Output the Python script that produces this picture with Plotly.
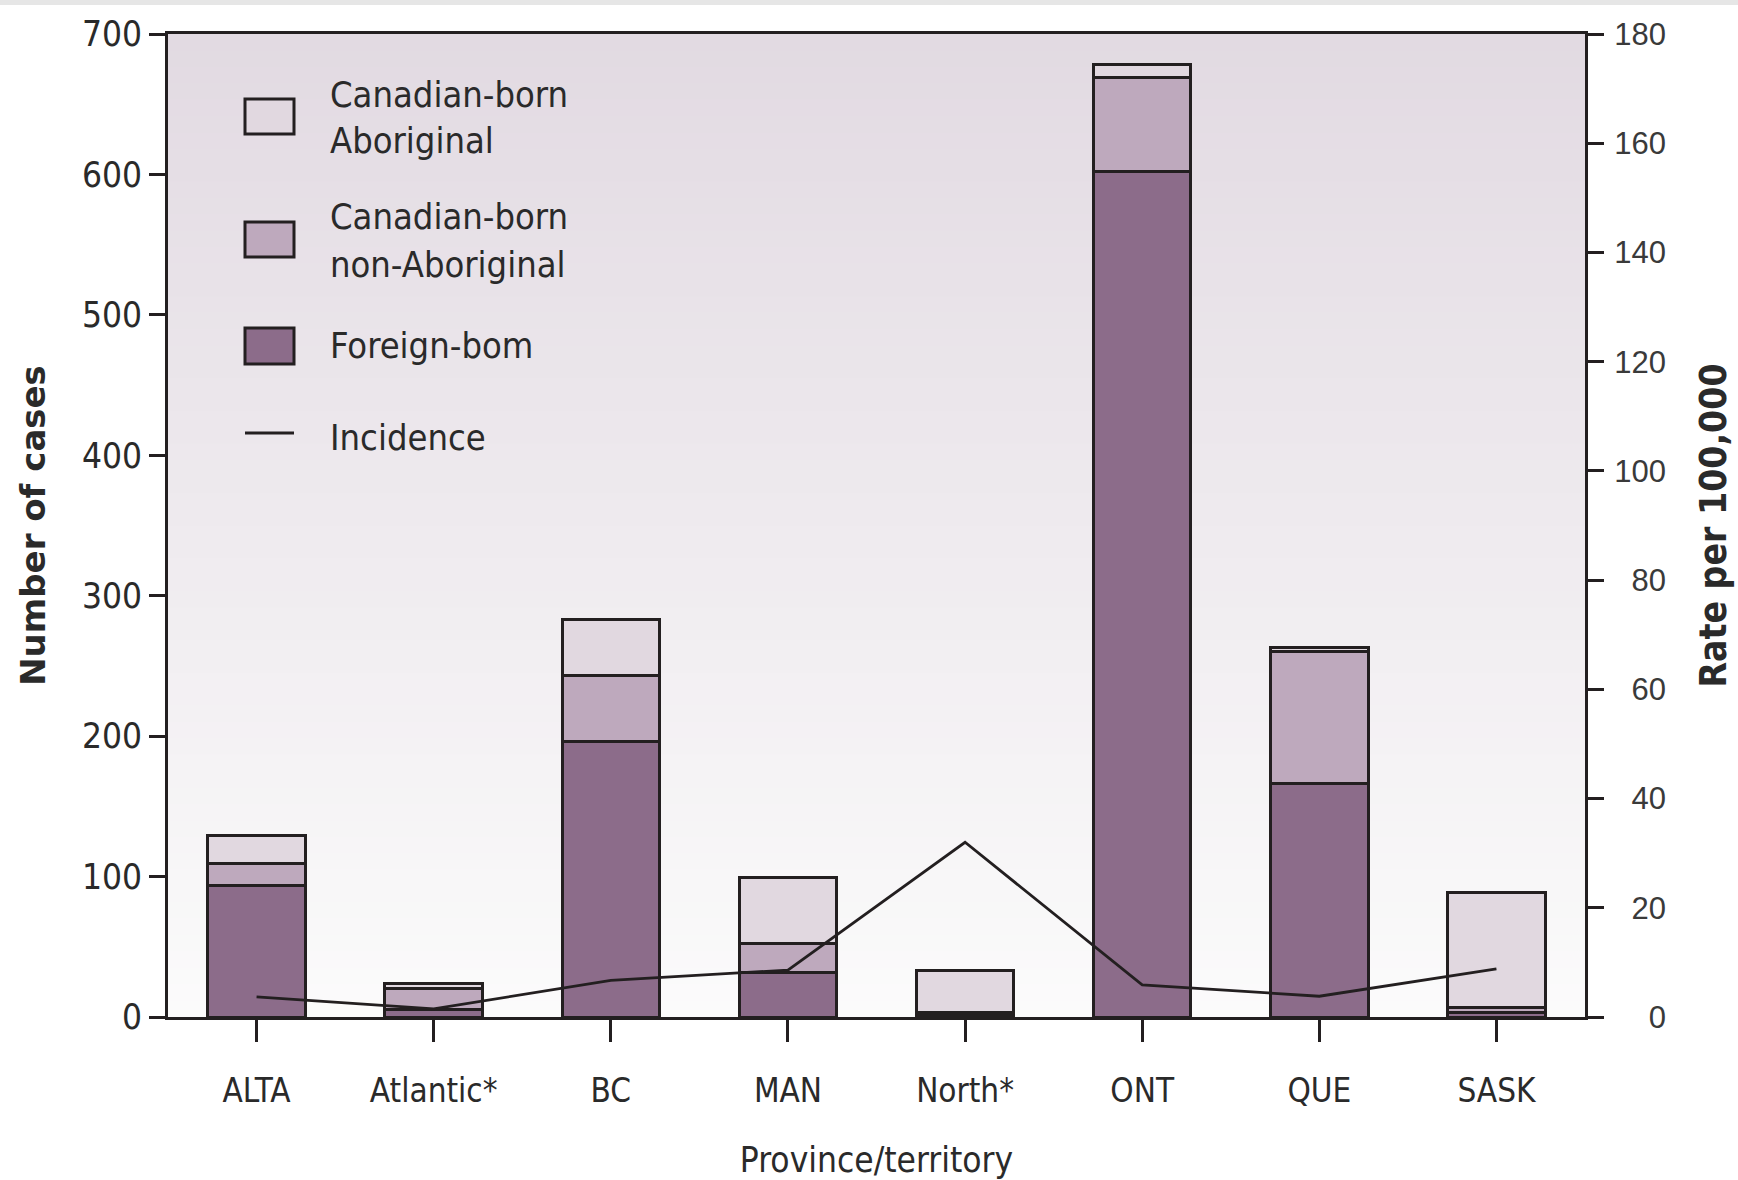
import plotly.graph_objects as go

categories = ["ALTA", "Atlantic*", "BC", "MAN", "North*", "ONT", "QUE", "SASK"]
foreign_born = [94, 5, 196, 32, 2, 602, 166, 3]
cb_non_aboriginal = [15, 15, 47, 20, 1, 67, 94, 4]
cb_aboriginal = [20, 4, 40, 47, 30, 9, 3, 82]
incidence = [3.7, 1.5, 6.7, 8.6, 32.0, 5.9, 3.8, 8.8]

left_ticks = [0, 100, 200, 300, 400, 500, 600, 700]
right_ticks = [0, 20, 40, 60, 80, 100, 120, 140, 160, 180]

OUT = "#231f20"
C_FOREIGN = "#8c6c8a"
C_NONAB = "#bea9bd"
C_AB = "#e1d8e0"
NARROW = "Liberation Sans Narrow, Arial Narrow, DejaVu Sans Condensed, sans-serif"
REG = "Liberation Sans, Arial, sans-serif"
TXT = "#2a2a2a"

fig = go.Figure()
for name, vals, col in [("Foreign-bom", foreign_born, C_FOREIGN),
                        ("Canadian-born non-Aboriginal", cb_non_aboriginal, C_NONAB),
                        ("Canadian-born Aboriginal", cb_aboriginal, C_AB)]:
    fig.add_trace(go.Bar(x=categories, y=vals, name=name, width=0.55,
                         marker=dict(color=col, line=dict(color=OUT, width=3)),
                         yaxis="y", showlegend=False))
fig.add_trace(go.Scatter(x=categories, y=incidence, name="Incidence", mode="lines",
                         line=dict(color=OUT, width=2.8), yaxis="y2", showlegend=False))

L, R, T, B = 168, 153, 34, 163
W, Hfig = 1738, 1180
PW = W - L - R
PH = Hfig - T - B

def py(px):
    return (Hfig - B - px) / PH
def pxx(px):
    return (px - L) / PW

# background gradient bands in the plot area
shapes = []
n = 60
top = (226, 218, 226)
bot = (251, 251, 251)
for i in range(n):
    t = i / (n - 1)
    c = tuple(round(bot[k] + (top[k] - bot[k]) * t) for k in range(3))
    shapes.append(dict(type="rect", xref="paper", yref="paper", x0=0, x1=1,
                       y0=i / n, y1=(i + 1) / n + 0.001, layer="below",
                       line=dict(width=0), fillcolor="rgb(%d,%d,%d)" % c))
# grey strip at very top of page
shapes.append(dict(type="rect", xref="paper", yref="paper", x0=pxx(-10), x1=pxx(W + 10),
                   y0=py(5), y1=py(-10), line=dict(width=0), fillcolor="#e6e6e6"))

# manual legend
for (y0, y1, col) in [(99, 134, C_AB), (222, 257, C_NONAB), (328, 364, C_FOREIGN)]:
    shapes.append(dict(type="rect", xref="paper", yref="paper",
                       x0=pxx(245), x1=pxx(294), y0=py(y1), y1=py(y0),
                       fillcolor=col, line=dict(color=OUT, width=3)))
shapes.append(dict(type="line", xref="paper", yref="paper",
                   x0=pxx(245), x1=pxx(294), y0=py(433), y1=py(433),
                   line=dict(color=OUT, width=3)))

annotations = []
for txt, y in [("Canadian-born", 95), ("Aboriginal", 140),
               ("Canadian-born", 216), ("non-Aboriginal", 264),
               ("Foreign-bom", 345), ("Incidence", 438)]:
    annotations.append(dict(text=txt, xref="paper", yref="paper", x=pxx(328), y=py(y),
                            xanchor="left", yanchor="middle", showarrow=False,
                            font=dict(family=NARROW, size=36, color=TXT)))

fig.update_layout(
    width=W, height=Hfig,
    margin=dict(l=L, r=R, t=T, b=B),
    paper_bgcolor="white", plot_bgcolor="white",
    barmode="stack", showlegend=False,
    shapes=shapes, annotations=annotations,
    xaxis=dict(range=[-0.5, 7.5], showline=True, linecolor=OUT, linewidth=3, mirror=True,
               ticks="outside", ticklen=22, tickwidth=2.5, tickcolor=OUT, automargin=False,
               tickfont=dict(family=NARROW, size=33, color=TXT),
               ticklabelstandoff=20,
               title=dict(text="Province/territory", standoff=44,
                          font=dict(family=NARROW, size=35, color=TXT))),
    yaxis=dict(range=[0, 700], tickvals=left_ticks, showline=True, linecolor=OUT, linewidth=3,
               ticks="outside", ticklen=16, tickwidth=3, tickcolor=OUT, showgrid=False,
               zeroline=False, automargin=False,
               tickfont=dict(family=NARROW, size=35, color=TXT),
               title=dict(text="Number of cases", standoff=27,
                          font=dict(family="DejaVu Sans, sans-serif", size=34, color=TXT,
                                    weight="bold"))),
    yaxis2=dict(range=[0, 180], tickvals=right_ticks,
                ticktext=[("\u2007" * (3 - len(str(v)))) + str(v) for v in right_ticks],
                overlaying="y", side="right", showline=True, linecolor=OUT, linewidth=3,
                ticks="outside", ticklen=16, tickwidth=3, tickcolor=OUT, showgrid=False,
                zeroline=False, automargin=False, ticklabelstandoff=4,
                tickfont=dict(family=REG, size=31, color="#3a3a3a"),
                title=dict(text="Rate per 100,000", standoff=36,
                           font=dict(family=NARROW, size=37, color=TXT, weight="bold"))),
)

fig.write_html("out.html", config={"displayModeBar": False},
               post_script="document.body.style.margin='0px';")
